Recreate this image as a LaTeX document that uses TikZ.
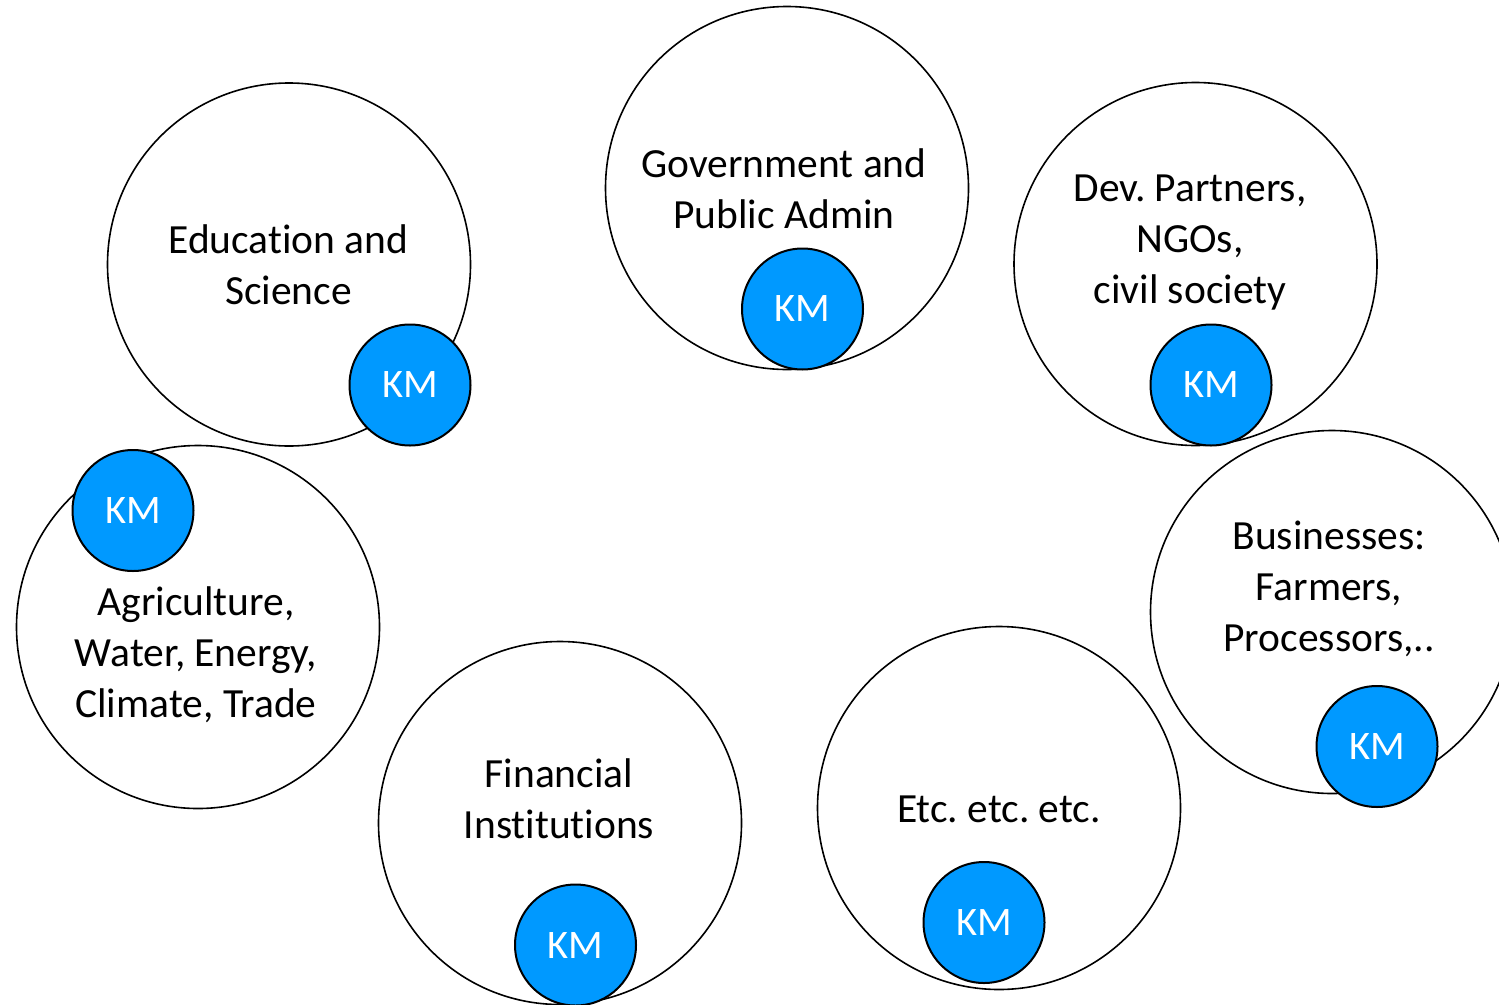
\documentclass[tikz,border=0pt]{standalone}
\usepackage{fontspec}
\setmainfont{Carlito}[Ligatures={NoCommon}]
\definecolor{kmblue}{RGB}{0,153,255}
\frenchspacing
\begin{document}
\begin{tikzpicture}[x=1pt,y=-1pt,
  sector/.style={circle,draw=black,line width=1.6pt,minimum size=363pt,inner sep=0pt},
  kmdisc/.style={circle,draw=black,fill=kmblue,line width=2pt,minimum size=121pt,inner sep=0pt,text=white,font=\fontsize{40.5}{48}\selectfont},
  sectortext/.style={anchor=north,align=center,inner sep=0pt,font=\fontsize{41.5}{51}\selectfont}]
\useasboundingbox (0,0) rectangle (1499,1004);
% Education and Science
\node[sector] (c1) at (289,264.5) {};
\node[sectortext] (t1) at (288.5,213) {\rule{0pt}{40pt}Education and\\Science};
\node[kmdisc] (k1) at (410,385) {\raisebox{-2pt}{KM}};
% Government
\node[sector] (c2) at (787,188) {};
\node[sectortext] (t2) at (784,137) {\rule{0pt}{40pt}Government and\\Public Admin};
\node[kmdisc] (k2) at (802.5,309) {\raisebox{-2pt}{KM}};
% Dev partners
\node[sector] (c3) at (1195.5,264) {};
\node[sectortext] (t3) at (1190,161) {\rule{0pt}{40pt}Dev. Partners,\\NGOs,\\civil society};
\node[kmdisc] (k3) at (1211,385) {\raisebox{-2pt}{KM}};
% Businesses
\node[sector] (c4) at (1332,612) {};
\node[sectortext] (t4) at (1329,509) {\rule{0pt}{40pt}Businesses:\\Farmers,\\Processors,..};
\node[kmdisc] (k4) at (1377,746.5) {\raisebox{-2pt}{KM}};
% Agriculture
\node[sector] (c5) at (198,627) {};
\node[sectortext] (t5) at (196,575) {\rule{0pt}{40pt}Agriculture,\\Water, Energy,\\Climate, Trade};
\node[kmdisc] (k5) at (133,510.5) {\raisebox{-2pt}{KM}};
% Financial
\node[sector] (c6) at (560,823) {};
\node[sectortext] (t6) at (559,747) {\rule{0pt}{40pt}Financial\\Institutions};
\node[kmdisc] (k6) at (575.5,945) {\raisebox{-2pt}{KM}};
% Etc
\node[sector] (c7) at (999,808) {};
\node[sectortext] (t7) at (999,782) {\rule{0pt}{40pt}Etc. etc. etc.};
\node[kmdisc] (k7) at (984,922.5) {\raisebox{-2pt}{KM}};
\end{tikzpicture}
\end{document}
